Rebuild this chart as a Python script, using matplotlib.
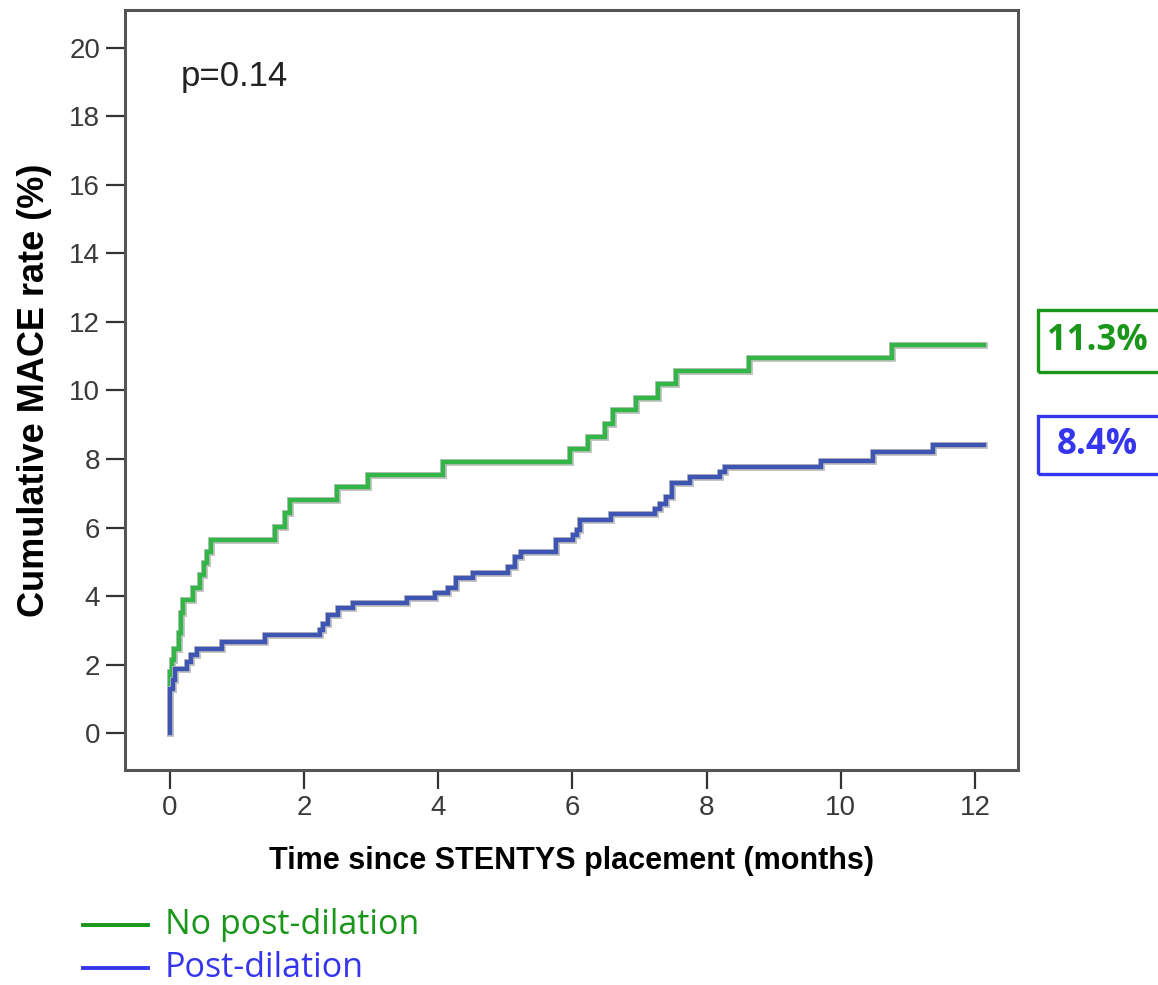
import matplotlib
matplotlib.use('Agg')
import matplotlib.pyplot as plt
import matplotlib.patheffects as pe
from matplotlib.lines import Line2D
from matplotlib.patches import Rectangle

# Kaplan-Meier style cumulative event curves
no_post_t = [0, 0.0, 0.035, 0.065, 0.14, 0.17, 0.2, 0.35, 0.45, 0.5, 0.55, 0.61,
             1.56, 1.72, 1.79, 2.49, 2.95, 4.07, 5.97, 6.23, 6.48, 6.6, 6.94,
             7.27, 7.54, 8.63, 10.77, 12.13]
no_post_v = [0, 1.79, 2.13, 2.47, 2.91, 3.5, 3.89, 4.23, 4.61, 4.96, 5.29, 5.65,
             6.02, 6.41, 6.8, 7.17, 7.53, 7.92, 8.29, 8.65, 9.02, 9.43, 9.79,
             10.19, 10.58, 10.94, 11.33, 11.33]

post_t = [0, 0.005, 0.04, 0.07, 0.25, 0.32, 0.4, 0.77, 1.42, 2.24, 2.28, 2.36,
          2.51, 2.73, 3.53, 3.95, 4.15, 4.27, 4.52, 5.04, 5.14, 5.24, 5.76, 6.01,
          6.06, 6.11, 6.58, 7.23, 7.3, 7.4, 7.48, 7.75, 8.2, 8.27, 9.71, 10.48,
          11.37, 12.13]
post_v = [0, 1.3, 1.55, 1.87, 2.08, 2.28, 2.47, 2.67, 2.86, 3.0, 3.2, 3.45,
          3.64, 3.79, 3.94, 4.09, 4.23, 4.52, 4.67, 4.86, 5.14, 5.28, 5.63, 5.78,
          5.93, 6.22, 6.39, 6.54, 6.68, 6.9, 7.3, 7.48, 7.63, 7.78, 7.95, 8.21,
          8.41, 8.41]

labels = ['No post-dilation', 'Post-dilation']
final_rates = ['11.3%', '8.4%']
x_ticks = [0, 2, 4, 6, 8, 10, 12]
y_ticks = [0, 2, 4, 6, 8, 10, 12, 14, 16, 18, 20]

curve_colors = ['#34b548', '#3f55b2']
text_colors = ['#1a961a', '#3535ee']

fig = plt.figure(figsize=(11.58, 9.85), dpi=100)
ax = fig.add_axes([0.108, 0.218, 0.771, 0.772])

shadow = [pe.Stroke(linewidth=5.0, foreground='#c4c4c4'), pe.Normal()]
ax.step(no_post_t, no_post_v, where='post', color=curve_colors[0], lw=3.2,
        path_effects=shadow, solid_joinstyle='miter', zorder=3)
ax.step(post_t, post_v, where='post', color=curve_colors[1], lw=3.2,
        path_effects=shadow, solid_joinstyle='miter', zorder=4)

ax.set_xlim(-0.67, 12.64)
ax.set_ylim(-1.08, 21.1)
ax.set_xticks(x_ticks)
ax.set_yticks(y_ticks)
for s in ax.spines.values():
    s.set_linewidth(2.2)
    s.set_color('#555555')
ax.tick_params(direction='out', length=14, width=1.6, color='#333333',
               labelsize=20, labelcolor='#3a3a3a', pad=4)
for lab in ax.get_xticklabels() + ax.get_yticklabels():
    lab.set_family('Liberation Sans')

ax.set_xlabel('Time since STENTYS placement (months)', fontsize=22,
              fontweight='bold', family='Liberation Sans', labelpad=18)
ax.set_ylabel('Cumulative MACE rate (%)', fontsize=26, fontweight='bold',
              family='Liberation Sans', labelpad=12)

ax.text(0.062, 0.912, 'p=0.14', transform=ax.transAxes, fontsize=25,
        family='Liberation Sans', color='#222222', va='center')

# boxed final rates on the right
W, H = 1158, 985
boxes = [(310, 372), (416, 474)]
for (top, bot), txt, c in zip(boxes, final_rates, text_colors):
    fig.add_artist(Rectangle((1038 / W, 1 - bot / H), 140 / W, (bot - top) / H,
                             transform=fig.transFigure, fill=False,
                             edgecolor=c, lw=2.4, clip_on=False))
    fig.text(1097 / W, 1 - (top + bot) / 2 / H, txt, color=c, fontsize=25,
             fontweight='bold', family='Open Sans', ha='center', va='center')

# legend drawn by hand below the plot
for yy, lab, c in zip([925, 968], labels, text_colors):
    fig.add_artist(Line2D([83 / W, 148 / W], [1 - yy / H, 1 - yy / H],
                          transform=fig.transFigure, color=c, lw=2.8))
    fig.text(165 / W, 1 - yy / H, lab, color=c, fontsize=24.5,
             family='Open Sans', ha='left', va='center')

fig.savefig('out.png', dpi=100)
